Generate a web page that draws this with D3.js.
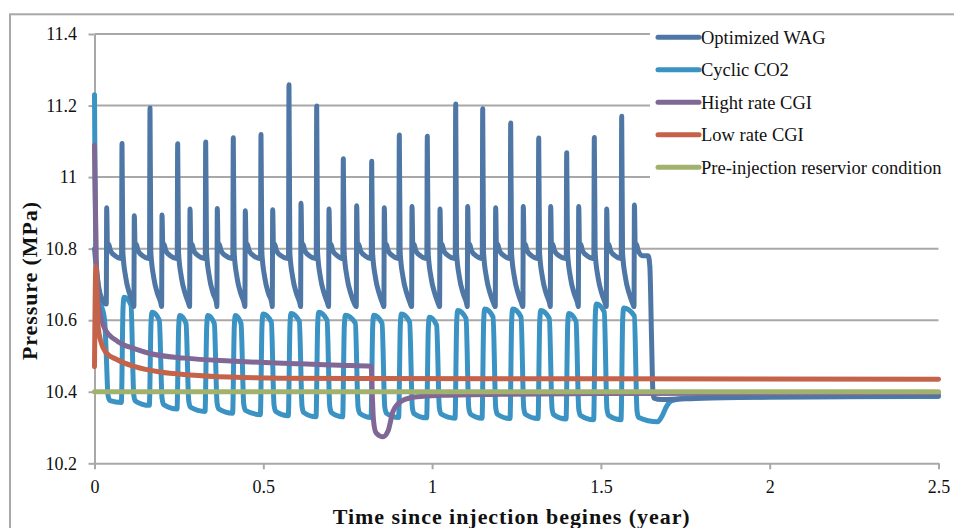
<!DOCTYPE html>
<html>
<head>
<meta charset="utf-8">
<script src="https://cdn.jsdelivr.net/npm/d3@7"></script>
<style>
  html, body { margin: 0; padding: 0; background: #fff; }
  svg { display: block; }
  text { font-family: "Liberation Serif", "Times New Roman", serif; fill: #111; }
</style>
</head>
<body>
<svg id="chart" width="954" height="528"></svg>
<script>
// ---- axis ticks ----
const xTicks = [0, 0.5, 1, 1.5, 2, 2.5];
const yTicks = [10.2, 10.4, 10.6, 10.8, 11, 11.2, 11.4];

// ---- series ----
const seriesNames = ["Optimized WAG", "Cyclic CO2", "Hight rate CGI", "Low rate CGI",
                     "Pre-injection reservior condition"];
const seriesColors = ["#4e77a5", "#3b93c3", "#806896", "#c4634a", "#a0b26e"];

// Monthly injection switches (years) shared by both cyclic schemes
const cycleStarts = [0.0815, 0.1644, 0.2464, 0.3294, 0.4111, 0.4932, 0.5761, 0.6582, 0.7370,
                     0.8211, 0.9029, 0.9858, 1.0699, 1.1499, 1.2328, 1.3158, 1.3987, 1.4805, 1.5616];

// Optimized WAG: pressure peaks at each gas slug start and each water slug start (MPa)
const wagGasPeaks = [11.094, 11.193, 11.093, 11.098, 11.110, 11.119, 11.258, 11.199, 11.051, 11.044,
                     11.118, 11.114, 11.204, 11.191, 11.151, 11.109, 11.068, 11.111, 11.170];
const wagWaterTimes = [0.0361, 0.1179, 0.2000, 0.2829, 0.3637, 0.4467, 0.5278, 0.6117, 0.6946, 0.7766,
                       0.8584, 0.9405, 1.0234, 1.1054, 1.1883, 1.2701, 1.3513, 1.4343, 1.5172, 1.5993];
const wagWaterPeaks = [10.914, 10.892, 10.894, 10.911, 10.912, 10.906, 10.909, 10.927, 10.911, 10.920,
                       10.914, 10.918, 10.911, 10.918, 10.914, 10.918, 10.918, 10.918, 10.911, 10.922];
const wagStart = [[0, 10.80], [0.006, 10.74], [0.015, 10.68], [0.030, 10.648]];
const wagTroughBefore = [10.645, 10.638];           // first slug, later slugs
const wagPlateau = [[0.0025, 10.80], [0.006, 10.812], [0.011, 10.795], [0.025, 10.78]];
const wagPreGas = [-0.0015, 10.772];
const wagFalloff = [[0.0025, 10.79], [0.011, 10.72], [0.022, 10.675], [0.032, 10.648]];
const wagShutIn = [[1.640, 10.78], [1.645, 10.75], [1.650, 10.55], [1.654, 10.40], [1.657, 10.382],
                   [1.680, 10.378], [1.800, 10.382], [2.000, 10.385], [2.500, 10.388]];

// Cyclic CO2: injection on at cycleStarts, off at co2OffTimes
const co2Start = [[0, 11.23], [0.0015, 11.0], [0.004, 10.78], [0.016, 10.66], [0.030, 10.60],
                  [0.035, 10.50], [0.040, 10.39], [0.046, 10.375]];
const co2OffTimes = [0.1102, 0.1940, 0.2731, 0.3569, 0.4360, 0.5258, 0.6087, 0.6908, 0.7746, 0.8537,
                     0.9354, 1.0154, 1.1025, 1.1825, 1.2654, 1.3492, 1.4283, 1.5119, 1.6010];
const co2Peaks = [10.664, 10.622, 10.613, 10.613, 10.613, 10.617, 10.619, 10.622, 10.614, 10.614,
                  10.617, 10.608, 10.627, 10.631, 10.631, 10.627, 10.619, 10.645, 10.634];
const co2Troughs = [10.370, 10.362, 10.352, 10.345, 10.340, 10.336, 10.333, 10.330, 10.330, 10.328,
                    10.328, 10.327, 10.326, 10.326, 10.325, 10.325, 10.324, 10.322, 10.322, 10.316];
const co2Tail = [[1.668, 10.316], [1.680, 10.330], [1.695, 10.360], [1.710, 10.375], [1.750, 10.382],
                 [1.900, 10.385], [2.500, 10.387]];

// High rate continuous gas injection
const highRate = [[0, 11.09], [0.0036, 10.87], [0.0065, 10.684], [0.0163, 10.62], [0.031, 10.575],
                  [0.0696, 10.54], [0.12, 10.52], [0.1644, 10.507], [0.268, 10.494], [0.4014, 10.486],
                  [0.52, 10.481], [0.609, 10.478], [0.728, 10.474], [0.8195, 10.471], [0.8225, 10.40],
                  [0.8264, 10.32], [0.834, 10.285], [0.8546, 10.274], [0.8694, 10.29], [0.8842, 10.345],
                  [0.899, 10.366], [0.9138, 10.376], [0.9553, 10.386], [1.0234, 10.39], [1.2012, 10.393],
                  [1.4974, 10.395], [2.5, 10.397]];

// Low rate continuous gas injection
const lowRate = [[0, 10.47], [0.004, 10.75], [0.011, 10.58], [0.019, 10.54], [0.034, 10.51],
                 [0.066, 10.49], [0.12, 10.47], [0.194, 10.455], [0.283, 10.447], [0.401, 10.441],
                 [0.55, 10.438], [0.816, 10.437], [1.497, 10.436], [2.5, 10.435]];

// Reservoir pressure before injection
const preInjection = [[0, 10.40], [2.5, 10.40]];

// ---- build the cyclic curves ----
function buildWag() {
  const pts = wagStart.slice();
  wagWaterTimes.forEach((s, i) => {
    pts.push([s - 0.0012, wagTroughBefore[i === 0 ? 0 : 1]]);
    pts.push([s, wagWaterPeaks[i]]);
    wagPlateau.forEach(([dt, v]) => pts.push([s + dt, v]));
    if (i < cycleStarts.length) {
      const b = cycleStarts[i];
      pts.push([b + wagPreGas[0], wagPreGas[1]]);
      pts.push([b, wagGasPeaks[i]]);
      wagFalloff.forEach(([dt, v]) => pts.push([b + dt, v]));
    } else {
      wagShutIn.forEach(p => pts.push(p));
    }
  });
  return pts;
}

function buildCo2() {
  const pts = co2Start.slice();
  cycleStarts.forEach((r, k) => {
    const f = co2OffTimes[k], pk = co2Peaks[k], nextTr = co2Troughs[k + 1];
    pts.push([r - 0.002, co2Troughs[k]]);
    pts.push([r + 0.003, pk - 0.03]);
    pts.push([r + 0.006, pk]);
    pts.push([f - 0.002, pk - 0.022]);
    pts.push([f + 0.006, nextTr + 0.03]);
    pts.push([f + 0.011, nextTr + 0.012]);
  });
  co2Tail.forEach(p => pts.push(p));
  return pts;
}

const seriesData = [buildWag(), buildCo2(), highRate, lowRate, preInjection];

// ---- drawing ----
const svg = d3.select("#chart");
const x = d3.scaleLinear().domain([0, 2.5]).range([94.5, 938.5]);
const y = d3.scaleLinear().domain([10.2, 11.4]).range([463.3, 34]);
const gridColor = "#a8a8a8";

// outer chart frame
svg.append("rect")
  .attr("x", 10).attr("y", 14.3).attr("width", 980).attr("height", 600)
  .attr("fill", "none").attr("stroke", gridColor).attr("stroke-width", 2);

// horizontal gridlines
svg.append("g").selectAll("line")
  .data(yTicks.filter(v => v > 10.2))
  .join("line")
  .attr("x1", x(0)).attr("x2", x(2.5))
  .attr("y1", d => y(d)).attr("y2", d => y(d))
  .attr("stroke", gridColor).attr("stroke-width", 2);

const fmt = d => String(+d.toFixed(1));

const yAxis = svg.append("g")
  .attr("transform", `translate(${x(0)},0)`)
  .call(d3.axisLeft(y).tickValues(yTicks).tickFormat(fmt).tickSize(6).tickSizeOuter(0).tickPadding(11.5));
const xAxis = svg.append("g")
  .attr("transform", `translate(0,${y(10.2)})`)
  .call(d3.axisBottom(x).tickValues(xTicks).tickFormat(fmt).tickSize(6).tickSizeOuter(0).tickPadding(11));

[yAxis, xAxis].forEach(g => {
  g.selectAll("path, line").attr("stroke", gridColor).attr("stroke-width", 2);
  g.selectAll("text").attr("font-family", "Liberation Serif, serif").attr("font-size", 18).attr("fill", "#111");
});

// series lines, cyclic schemes first so the continuous cases sit above them
const line = d3.line()
  .x(d => x(d[0])).y(d => y(d[1]))
  .curve(d3.curveMonotoneX);

const drawOrder = [1, 0, 2, 3, 4];
svg.append("g").selectAll("path")
  .data(drawOrder)
  .join("path")
  .attr("d", i => line(seriesData[i]))
  .attr("fill", "none")
  .attr("stroke", i => seriesColors[i])
  .attr("stroke-width", 5)
  .attr("stroke-linejoin", "round")
  .attr("stroke-linecap", "round");

// axis titles
svg.append("text")
  .attr("x", 332.7).attr("y", 523.5)
  .attr("font-weight", "bold").attr("font-size", 22)
  .attr("textLength", 357).attr("lengthAdjust", "spacing")
  .text("Time since injection  begines (year)");

svg.append("text")
  .attr("transform", "translate(36.7,360) rotate(-90)")
  .attr("font-weight", "bold").attr("font-size", 22)
  .attr("textLength", 158).attr("lengthAdjust", "spacing")
  .text("Pressure (MPa)");

// legend
const legend = svg.append("g");
legend.append("rect")
  .attr("x", 650).attr("y", 17).attr("width", 310).attr("height", 168)
  .attr("fill", "#fff");
const rows = legend.selectAll("g.row")
  .data(seriesNames)
  .join("g")
  .attr("class", "row")
  .attr("transform", (d, i) => `translate(0,${37.3 + i * 32.5})`);
rows.append("line")
  .attr("x1", 658).attr("x2", 699)
  .attr("stroke", (d, i) => seriesColors[i])
  .attr("stroke-width", 5).attr("stroke-linecap", "round");
rows.append("text")
  .attr("x", 701).attr("dy", "0.36em")
  .attr("font-size", 18.5)
  .text(d => d);
</script>
</body>
</html>
